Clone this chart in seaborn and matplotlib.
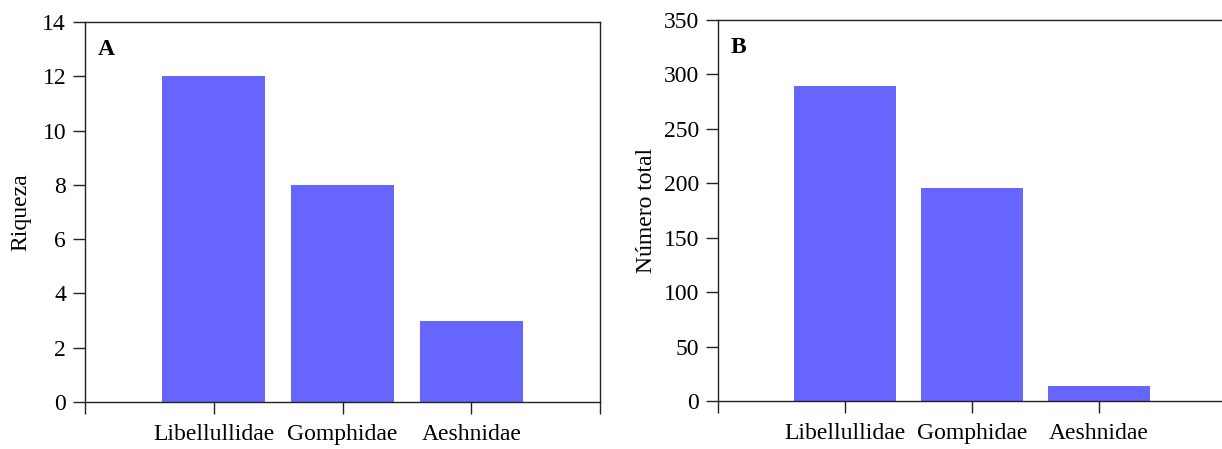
import matplotlib
matplotlib.use("Agg")
import matplotlib.pyplot as plt
import seaborn as sns
import pandas as pd

# Dragonfly families: species richness and total number of individuals
families = ["Libellullidae", "Gomphidae", "Aeshnidae"]
riqueza = [12, 8, 3]
numero_total = [289, 196, 14]

riqueza_ticks = [0, 2, 4, 6, 8, 10, 12, 14]
total_ticks = [0, 50, 100, 150, 200, 250, 300, 350]

sns.set_theme(style="ticks")
plt.rcParams["font.family"] = ["Liberation Serif", "DejaVu Serif"]
plt.rcParams["axes.edgecolor"] = "#222222"
plt.rcParams["axes.linewidth"] = 1.0
plt.rcParams["text.color"] = "black"
plt.rcParams["axes.labelcolor"] = "black"

BAR = "#6666FF"
FS = 17

fig = plt.figure(figsize=(12.22, 4.49), dpi=100)
ax_a = fig.add_axes([0.0696, 0.1047, 0.4215, 0.8465])
ax_b = fig.add_axes([0.5876, 0.1069, 0.4157, 0.8486])

df_a = pd.DataFrame({"family": families, "value": riqueza})
df_b = pd.DataFrame({"family": families, "value": numero_total})


def style_panel(ax, ticks, ylabel, letter, labelpad):
    ax.set_xlim(-1, 3)
    ax.set_ylim(ticks[0], ticks[-1])
    ax.set_yticks(ticks)
    ax.set_yticklabels([str(t) for t in ticks], fontsize=FS)
    ax.set_xticks([-1, 0, 1, 2, 3])
    ax.set_xticklabels([""] + families + [""], fontsize=FS)
    ax.set_xlabel("")
    ax.set_ylabel(ylabel, fontsize=FS, labelpad=labelpad)
    ax.tick_params(axis="both", direction="out", length=8.6, width=1.0,
                   color="#222222", labelcolor="black")
    ax.tick_params(axis="y", pad=5)
    ax.tick_params(axis="x", pad=7)
    for side in ("top", "left", "bottom", "right"):
        ax.spines[side].set_visible(True)
        ax.spines[side].set_color("#222222")
    ax.text(0.024, 0.955, letter, transform=ax.transAxes, fontsize=FS,
            fontweight="bold", ha="left", va="top")


sns.barplot(data=df_a, x="family", y="value", ax=ax_a, color=BAR,
            saturation=1, width=0.8, edgecolor="none")
sns.barplot(data=df_b, x="family", y="value", ax=ax_b, color=BAR,
            saturation=1, width=0.8, edgecolor="none")

style_panel(ax_a, riqueza_ticks, "Riqueza", "A", 8)
style_panel(ax_b, total_ticks, "Número total", "B", 5)

fig.savefig("out.png", dpi=100)
